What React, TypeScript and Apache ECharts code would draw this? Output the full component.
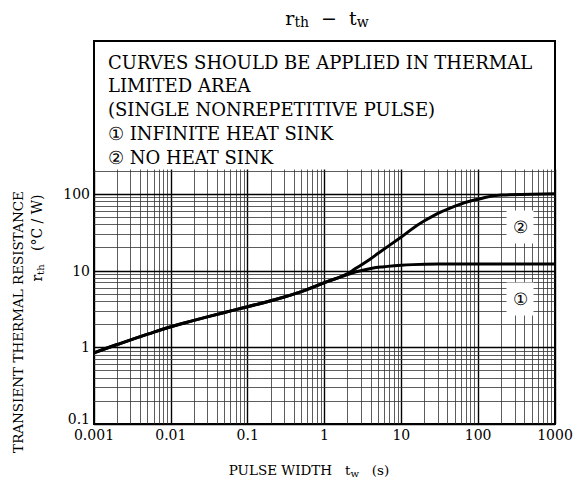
import React, { useEffect, useRef } from "react";
import * as echarts from "echarts";

// ---- data ----
const twShared = [0.001, 0.002, 0.005, 0.01, 0.02, 0.05, 0.1, 0.2, 0.5, 1, 1.5];
const rthShared = [0.85, 1.09, 1.49, 1.86, 2.25, 2.86, 3.4, 4.06, 5.35, 7.0, 8.1];
const twSink1 = [2, 2.5, 4, 6, 10, 30, 100, 1000];
const rthSink1 = [8.9, 9.6, 10.7, 11.3, 11.8, 12.3, 12.3, 12.3];
const twSink2 = [2, 2.5, 3, 4, 5, 10, 20, 50, 100, 200, 500, 1000];
const rthSink2 = [9.2, 10.6, 11.9, 14.4, 16.9, 27.7, 45, 70, 86, 97.5, 100, 101];

const xTickLabels = ["0.001", "0.01", "0.1", "1", "10", "100", "1000"];
const yTickLabels = ["0.1", "1", "10", "100"];
const xDecades = [0.001, 0.01, 0.1, 1, 10, 100];
const yDecades = [0.1, 1, 10];
const gridMultipliers = [1, 2, 3, 4, 5, 6, 7, 8, 9];
const yGridTop = [100, 200];
const noteLines = [
  "CURVES SHOULD BE APPLIED IN THERMAL",
  "LIMITED AREA",
  "(SINGLE NONREPETITIVE PULSE)",
  "\u2460 INFINITE HEAT SINK",
  "\u2461 NO HEAT SINK",
];

const FONT = "'DejaVu Serif', serif";

export default function App() {
  const ref = useRef<HTMLDivElement>(null);
  useEffect(() => {
    if (!ref.current) return;
    const chart = echarts.init(ref.current, null, { renderer: "svg" });

    const xMin = 0.001, xMax = 1000, yMin = 0.1, yMax = 10000;
    const vTop = 210; // vertical grid lines end under the note box
    const xGrid: number[] = [];
    xDecades.forEach((d) => gridMultipliers.forEach((m) => xGrid.push(+(d * m).toPrecision(3))));
    xGrid.push(xMax);
    const yGrid: number[] = [];
    yDecades.forEach((d) => gridMultipliers.forEach((m) => yGrid.push(+(d * m).toPrecision(3))));
    yGridTop.forEach((v) => yGrid.push(v));

    const isMajor = (v: number) => Math.abs(Math.log10(v) - Math.round(Math.log10(v))) < 1e-6;
    const lineStyleFor = (v: number) =>
      isMajor(v)
        ? { color: "#000", width: 1.4, type: "solid" as const }
        : { color: "#333", width: 0.8, type: "solid" as const };

    const markData: any[] = [];
    xGrid.forEach((v) =>
      markData.push([
        { coord: [v, yMin], lineStyle: lineStyleFor(v) },
        { coord: [v, vTop] },
      ])
    );
    yGrid.forEach((v) =>
      markData.push([
        { coord: [xMin, v], lineStyle: lineStyleFor(v) },
        { coord: [xMax, v] },
      ])
    );

    const curve1 = twShared.map((t, i) => [t, rthShared[i]]).concat(twSink1.map((t, i) => [t, rthSink1[i]]));
    const curve2 = twShared.map((t, i) => [t, rthShared[i]]).concat(twSink2.map((t, i) => [t, rthSink2[i]]));

    const logIdx = (v: number, base: number) => Math.round(Math.log10(v) - Math.log10(base));

    chart.setOption({
      animation: false,
      backgroundColor: "#fff",
      grid: {
        left: 94, right: 22, top: 41, bottom: 66,
        show: true, borderColor: "#000", borderWidth: 2, backgroundColor: "transparent",
      },
      xAxis: {
        type: "log", logBase: 10, min: xMin, max: xMax,
        axisLine: { show: false }, axisTick: { show: false }, splitLine: { show: false },
        axisLabel: {
          color: "#000", fontFamily: FONT, fontSize: 14, margin: 4,
          formatter: (v: number) => xTickLabels[logIdx(v, xMin)] ?? "",
        },
      },
      yAxis: {
        type: "log", logBase: 10, min: yMin, max: yMax,
        axisLine: { show: false }, axisTick: { show: false }, splitLine: { show: false },
        axisLabel: {
          color: "#000", fontFamily: FONT, fontSize: 14, margin: 4,
          formatter: (v: number) => {
            const i = logIdx(v, yMin);
            if (i === 0) return "{lo|" + yTickLabels[0] + "}";
            return yTickLabels[i] ?? "";
          },
          rich: { lo: { fontFamily: FONT, fontSize: 14, color: "#000", padding: [0, 0, 10, 0] } },
        },
      },
      series: [
        {
          type: "line", data: [[xMin, yMin]], symbol: "none", silent: true,
          lineStyle: { opacity: 0 }, z: 1,
          markLine: { silent: true, symbol: "none", label: { show: false }, data: markData, animation: false },
        },
        {
          type: "line", data: curve1, smooth: 0.5, symbol: "none", z: 5,
          lineStyle: { color: "#000", width: 3 },
        },
        {
          type: "line", data: curve2, smooth: 0.5, symbol: "none", z: 5,
          lineStyle: { color: "#000", width: 3 },
        },
      ],
      graphic: [
        {
          type: "text", x: 327, y: 18, z: 100,
          style: {
            text: "{a|r}{s|th}{a|  \u2212  t}{s|w}",
            align: "center", verticalAlign: "middle",
            rich: {
              a: { fontFamily: FONT, fontSize: 19, fill: "#000" },
              s: { fontFamily: FONT, fontSize: 14, fill: "#000", padding: [8, 0, 0, 0] },
            },
          },
        },
        ...noteLines.map((t, i) => ({
          type: "text", x: 108, y: 62 + i * 23.8, z: 100,
          style: { text: t, fontFamily: FONT, fontSize: 18, fill: "#000", verticalAlign: "middle" },
        })),
        {
          type: "text", x: 520, y: 227, z: 100,
          style: {
            text: "\u2461", fontFamily: FONT, fontSize: 17, fill: "#000",
            align: "center", verticalAlign: "middle",
            backgroundColor: "#fff", padding: [8, 6, 8, 6],
          },
        },
        {
          type: "text", x: 520, y: 299, z: 100,
          style: {
            text: "\u2460", fontFamily: FONT, fontSize: 17, fill: "#000",
            align: "center", verticalAlign: "middle",
            backgroundColor: "#fff", padding: [8, 6, 8, 6],
          },
        },
        {
          type: "text", x: 18, y: 322, rotation: Math.PI / 2, z: 100,
          style: {
            text: "TRANSIENT THERMAL RESISTANCE", fontFamily: FONT, fontSize: 13.5, fill: "#000",
            align: "center", verticalAlign: "middle",
          },
        },
        {
          type: "text", x: 37, y: 238, rotation: Math.PI / 2, z: 100,
          style: {
            text: "{a|r}{s|th}{a|   (\u00B0C / W)}",
            align: "center", verticalAlign: "middle",
            rich: {
              a: { fontFamily: FONT, fontSize: 14, fill: "#000" },
              s: { fontFamily: FONT, fontSize: 10, fill: "#000", padding: [6, 0, 0, 0] },
            },
          },
        },
        {
          type: "text", x: 309, y: 470, z: 100,
          style: {
            text: "{a|PULSE WIDTH   t}{s|w}{a|   (s)}",
            align: "center", verticalAlign: "middle",
            rich: {
              a: { fontFamily: FONT, fontSize: 13.5, fill: "#000" },
              s: { fontFamily: FONT, fontSize: 10, fill: "#000", padding: [6, 0, 0, 0] },
            },
          },
        },
      ],
    });
    return () => chart.dispose();
  }, []);
  return <div ref={ref} style={{ position: "absolute", left: 0, top: 0, width: 577, height: 490 }} />;
}
